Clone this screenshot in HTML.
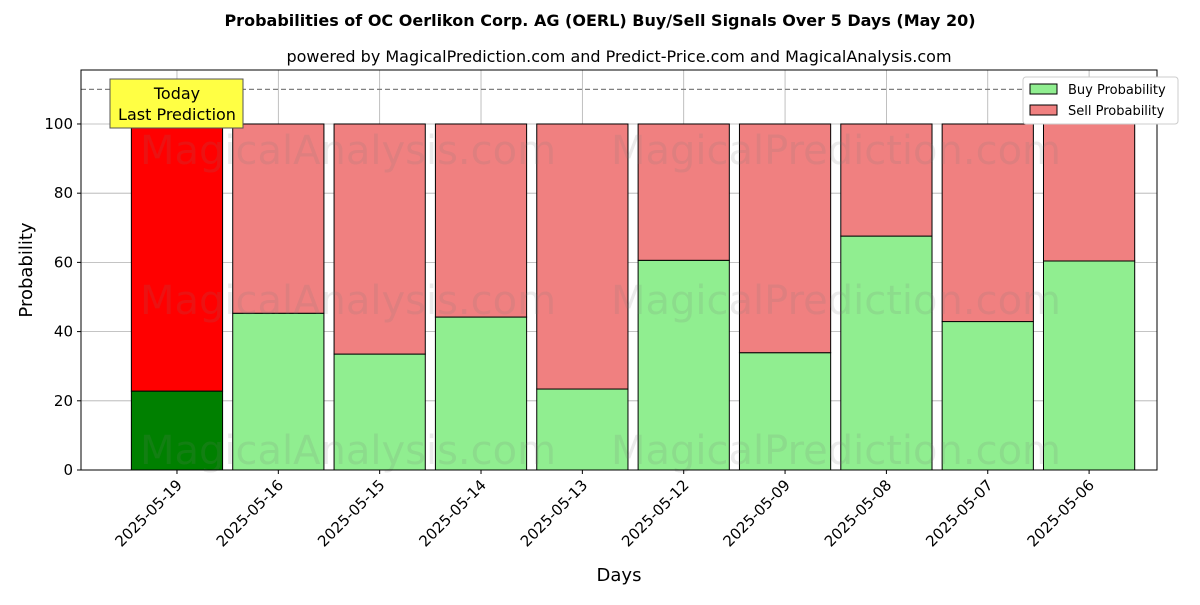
<!DOCTYPE html>
<html><head><meta charset="utf-8"><style>body{margin:0;background:#fff}svg{font-family:"DejaVu Sans","Liberation Sans",sans-serif}</style></head>
<body>
<svg id="chart" width="1200" height="600" xmlns="http://www.w3.org/2000/svg">
<text x="600" y="26" text-anchor="middle" font-size="16" font-weight="bold">Probabilities of OC Oerlikon Corp. AG (OERL) Buy/Sell Signals Over 5 Days (May 20)</text>
<text x="619" y="62" text-anchor="middle" font-size="16">powered by MagicalPrediction.com and Predict-Price.com and MagicalAnalysis.com</text>
<g id="plot"></g>
</svg>
<script>
const categories=["2025-05-19","2025-05-16","2025-05-15","2025-05-14","2025-05-13","2025-05-12","2025-05-09","2025-05-08","2025-05-07","2025-05-06"];
const buyValues=[22.8,45.3,33.5,44.2,23.4,60.6,33.9,67.6,42.9,60.4];
const sellValues=[77.2,54.7,66.5,55.8,76.6,39.4,66.1,32.4,57.1,39.6];
const yTicks=[0,20,40,60,80,100];
const L=81,R=1157,T=70,B=470,xMin=-0.947,xMax=9.67,yMin=0,yMax=115.6;
const sx=v=>L+(v-xMin)/(xMax-xMin)*(R-L);
const sy=v=>B-(v-yMin)/(yMax-yMin)*(B-T);
const g=document.getElementById('plot');
const NS="http://www.w3.org/2000/svg";
function mk(t,a,txt){const e=document.createElementNS(NS,t);for(const k in a)e.setAttribute(k,a[k]);if(txt!==undefined)e.textContent=txt;g.appendChild(e);return e;}
// grid
categories.forEach((c,i)=>{const e=mk('line',{x1:sx(i),x2:sx(i),y1:T,y2:B,stroke:'#b0b0b0','stroke-width':0.8});});
yTicks.forEach(v=>{const e=mk('line',{x1:L,x2:R,y1:sy(v),y2:sy(v),stroke:'#b0b0b0','stroke-width':0.8});});
// bars
const w=0.9;
categories.forEach((c,i)=>{
 const x0=sx(i-w/2),bw=sx(i+w/2)-sx(i-w/2);
 const b=mk('rect',{x:x0,y:sy(buyValues[i]),width:bw,height:sy(0)-sy(buyValues[i]),fill:i==0?'#008000':'#90ee90',stroke:'#000','stroke-width':1});
 
 const s=mk('rect',{x:x0,y:sy(buyValues[i]+sellValues[i]),width:bw,height:sy(buyValues[i])-sy(buyValues[i]+sellValues[i]),fill:i==0?'#ff0000':'#f08080',stroke:'#000','stroke-width':1});
 
});
// watermarks
[[150],[300],[450]].forEach(([y])=>{
 [[348,'MagicalAnalysis.com'],[836,'MagicalPrediction.com']].forEach(([x,t])=>{const e=mk('text',{x:x,y:y+14,'text-anchor':'middle','font-size':40,fill:'rgba(120,120,120,0.15)'},t);});
});
// dashed line
const d=mk('line',{x1:L,x2:R,y1:sy(110),y2:sy(110),stroke:'#808080','stroke-width':1.2,'stroke-dasharray':'5,3'});
// axes frame
const f=mk('rect',{x:L,y:T,width:R-L,height:B-T,fill:'none',stroke:'#000','stroke-width':1});
// y ticks
yTicks.forEach(v=>{mk('line',{x1:L-4,x2:L,y1:sy(v),y2:sy(v),stroke:'#000'});const e=mk('text',{x:L-8,y:sy(v)+5,'text-anchor':'end','font-size':15},v);});
// x ticks
categories.forEach((c,i)=>{mk('line',{x1:sx(i),x2:sx(i),y1:B,y2:B+4,stroke:'#000'});const e=mk('text',{x:sx(i)+6,y:B+16,'text-anchor':'end','font-size':15,transform:`rotate(-45 ${sx(i)+6} ${B+16})`},c);});
let e=mk('text',{x:619,y:581,'text-anchor':'middle','font-size':18},'Days');
e=mk('text',{x:32,y:270,'text-anchor':'middle','font-size':18,transform:'rotate(-90 32 270)'},'Probability');
// today annotation
e=mk('rect',{x:110,y:79,width:133,height:49,fill:'#ffff44',stroke:'#555','stroke-width':1});
mk('text',{x:177,y:99,'text-anchor':'middle','font-size':16},'Today');
mk('text',{x:177,y:120,'text-anchor':'middle','font-size':16},'Last Prediction');
// legend
e=mk('rect',{x:1023,y:77,width:155,height:47,fill:'#fff',stroke:'#ccc','stroke-width':1,rx:3});
e=mk('rect',{x:1030,y:84,width:27,height:10,fill:'#90ee90',stroke:'#000'});
mk('text',{x:1068,y:94,'font-size':13},'Buy Probability');
e=mk('rect',{x:1030,y:105,width:27,height:10,fill:'#f08080',stroke:'#000'});
mk('text',{x:1068,y:115,'font-size':13},'Sell Probability');
</script>
</body></html>
